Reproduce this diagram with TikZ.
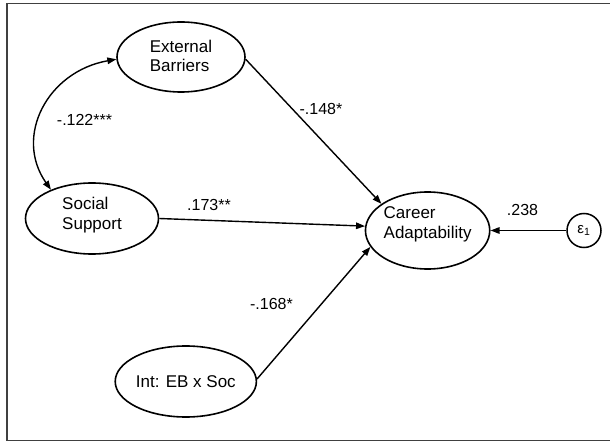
\documentclass[tikz,border=0pt]{standalone}
\usepackage{fontspec}
\setmainfont{Liberation Sans}
\usetikzlibrary{shapes.geometric, arrows.meta, positioning}
\newcommand{\nodetext}[2]{\raisebox{#1}[0pt][0pt]{\begin{tabular}[c]{@{}l@{}}#2\end{tabular}}}

\begin{document}
\begin{tikzpicture}[x=1pt, y=1pt,
    latent/.style={ellipse, draw, line width=1.6pt, inner sep=0pt, font=\fontsize{17}{19.5}\selectfont},
    errterm/.style={circle, draw, line width=1.5pt, inner sep=0pt, minimum size=34pt, font=\fontsize{15}{17}\selectfont},
    path/.style={line width=1.4pt, -{Triangle[length=9pt, width=6.5pt]}},
    cov/.style={line width=1.4pt, {Triangle[length=9pt, width=6.5pt]}-{Triangle[length=9pt, width=6.5pt]}},
    coef/.style={font=\fontsize{16}{18}\selectfont, inner sep=0pt}]
  \useasboundingbox (0,0) rectangle (610,442);
  \draw[black!75, line width=1.3pt] (7,1.5) rectangle (614,438.5);

  % variables
  \node[latent, minimum width=128pt, minimum height=70pt] (eb) at (181,385) {\nodetext{-5.5pt}{External\\Barriers}};
  \node[latent, minimum width=133pt, minimum height=71pt] (ss) at (92,223.5) {\nodetext{-1.6pt}{Social\\Support}};
  \node[latent, minimum width=124pt, minimum height=77pt] (ca) at (427.6,211.5) {\nodetext{1.7pt}{Career\\Adaptability}};
  \node[latent, minimum width=124pt, minimum height=71pt] (int) at (185.8,60.5) {\nodetext{-6.4pt}{Int: EB x Soc}};
  \node[errterm] (eps) at (584,211.5) {ε\textsubscript{1}};

  % paths
  \draw[cov] (ss.145) .. controls +(125:65) and +(190:70) .. (eb.182);
  \draw[path] (eb.358) -- (ca.150);
  \draw[path] (ss.east) -- (ca.176);
  \draw[path] (int.2) -- (ca.196);
  \draw[path] (eps.west) -- (ca.east);

  % coefficients
  \node[coef] (c122) at (84.5,322) {-.122***};
  \node[coef] (c148) at (321,333.5) {-.148*};
  \node[coef] (c173) at (209,237) {.173**};
  \node[coef] (c238) at (522.5,232) {.238};
  \node[coef] (c168) at (271.5,138.5) {-.168*};
\end{tikzpicture}
\end{document}
